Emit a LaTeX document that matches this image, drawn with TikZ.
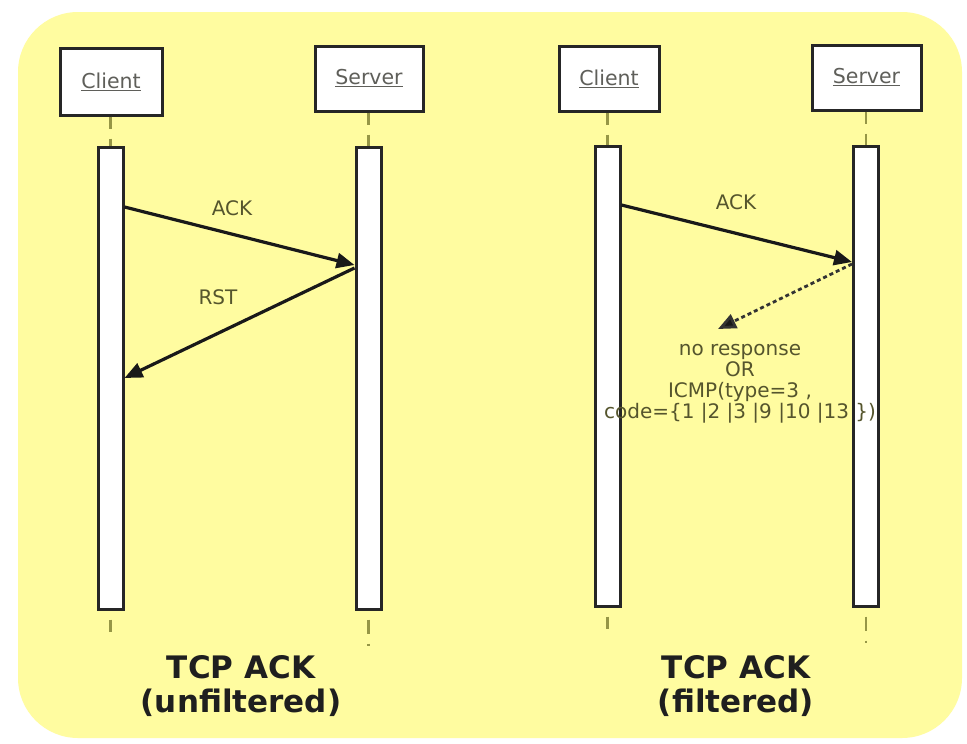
\documentclass[tikz,border=0pt]{standalone}
\usepackage{fontspec}
\setmainfont{DejaVu Sans}
\usetikzlibrary{arrows.meta}
\definecolor{bgyellow}{RGB}{255,252,160}
\definecolor{lifeol}{RGB}{150,150,70}
\definecolor{labeltxt}{RGB}{85,85,45}
\definecolor{actortxt}{RGB}{95,95,90}
\tikzset{
  actor/.style={draw=black!85, fill=white, line width=3pt, inner sep=0pt,
    font=\fontsize{20.5}{22}\selectfont, text=actortxt},
  lifebar/.style={draw=black!85, fill=white, line width=3pt, inner sep=0pt, minimum width=25pt},
  msg/.style={line width=3.2pt, draw=black!90, -{Triangle[length=18pt,width=15pt]}},
  nomsg/.style={line width=2.8pt, draw=black!80, dash pattern=on 4pt off 3pt,
    -{Triangle[length=18pt,width=15pt,fill=black!90]}},
  lbl/.style={font=\fontsize{20}{21}\selectfont, text=labeltxt, inner sep=0pt},
  life/.style={line width=2.8pt, draw=lifeol},
  title/.style={font=\fontsize{31}{34}\selectfont\bfseries, align=center, text=black!88, inner sep=0pt}
}
\begin{document}
\begin{tikzpicture}[x=1pt,y=-1pt]
\useasboundingbox (0,0) rectangle (967,744);
\fill[white] (0,0) rectangle (967,744);
\fill[bgyellow, rounded corners=60pt] (18,12) rectangle (962,738);

% actors
\node[actor, minimum width=102pt, minimum height=67pt] (c1) at (111,81.5) {\underline{Client}};
\node[actor, minimum width=108pt, minimum height=65pt] (s1) at (369,78.5) {\underline{Server}};
\node[actor, minimum width=100pt, minimum height=65pt] (c2) at (609,78.5) {\underline{Client}};
\node[actor, minimum width=109pt, minimum height=65pt] (s2) at (866.5,77.5) {\underline{Server}};

% activation bars
\node[lifebar, minimum height=462pt] (c1b) at (110.5,378) {};
\node[lifebar, minimum height=462pt] (s1b) at (368.5,378) {};
\node[lifebar, minimum height=460pt] (c2b) at (607.5,376) {};
\node[lifebar, minimum height=460pt] (s2b) at (866,376) {};

% lifeline stubs above
\foreach \a/\b in {c1/c1b, s1/s1b, c2/c2b, s2/s2b}{
  \draw[life, dash pattern=on 12pt off 10pt] (\b.north |- \a.south) -- (\b.north);
}
% lifeline stubs below
\coordinate (c1e) at (110.5,632);
\coordinate (s1e) at (368.5,646);
\coordinate (c2e) at (607.5,629);
\coordinate (s2e) at (866,643);
\foreach \b in {c1, s1, c2, s2}{
  \draw[life, dash pattern=on 14pt off 10pt, dash phase=15pt] (\b b.south) -- (\b e);
}

% message levels
\coordinate (y207) at (0,207);
\coordinate (y265) at (0,265);
\coordinate (y268) at (0,268);
\coordinate (y378) at (0,378);
\coordinate (y205) at (0,205);
\coordinate (y262) at (0,262);
\coordinate (y264) at (0,264);
\coordinate (nr) at (718,329);

% unfiltered
\draw[msg] (c1b.east |- y207) -- (s1b.west |- y265);
\draw[msg] (s1b.west |- y268) -- (c1b.east |- y378);
\node[lbl] (ack1) at (232,208) {ACK};
\node[lbl] (rst1) at (218,297) {RST};

% filtered
\draw[msg] (c2b.east |- y205) -- (s2b.west |- y262);
\draw[nomsg] (s2b.west |- y264) -- (nr);
\node[lbl] (ack2) at (736,202) {ACK};
\node[lbl, align=center] (resp) at (740,384) {no response\\OR\\ICMP(type=3 ,\\code=\{1 |2 |3 |9 |10 |13 \})};

% titles
\node[title] (t1) at (241,686) {TCP ACK\\(unfiltered)};
\node[title] (t2) at (736,686) {TCP ACK\\(filtered)};
\end{tikzpicture}
\end{document}
